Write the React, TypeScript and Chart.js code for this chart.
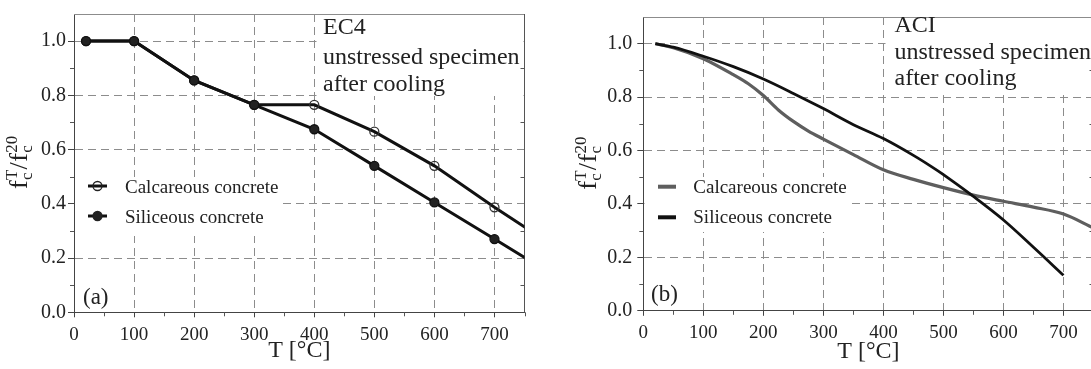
import React, { useEffect, useRef } from "react";
import { Chart, registerables } from "chart.js";

Chart.register(...registerables);

const FONT = '"Liberation Serif", "Times New Roman", serif';
const CANVAS_H = 369;

// ---------------- data ----------------
const EC4_TEMPS = [20, 100, 200, 300, 400, 500, 600, 700, 800];
const EC4_CALCAREOUS = [1.0, 1.0, 0.855, 0.765, 0.765, 0.666, 0.54, 0.387, 0.243];
const EC4_SILICEOUS = [1.0, 1.0, 0.855, 0.765, 0.675, 0.54, 0.405, 0.27, 0.135];

const ACI_CALC_TEMPS = [20, 50, 100, 150, 175, 200, 225, 250, 275, 300, 350, 400, 450, 500, 550, 600, 650, 700, 750];
const ACI_CALCAREOUS = [1.0, 0.985, 0.944, 0.884, 0.85, 0.806, 0.752, 0.709, 0.673, 0.643, 0.585, 0.528, 0.492, 0.461, 0.433, 0.41, 0.388, 0.362, 0.31];
const ACI_SIL_TEMPS = [20, 50, 100, 150, 200, 250, 300, 350, 400, 450, 480, 500, 550, 600, 650, 700];
const ACI_SILICEOUS = [1.0, 0.987, 0.953, 0.914, 0.868, 0.814, 0.757, 0.697, 0.645, 0.582, 0.54, 0.51, 0.428, 0.34, 0.238, 0.133];

const X_TICKS = [0, 100, 200, 300, 400, 500, 600, 700];
const X_MINOR_TICKS = [50, 150, 250, 350, 450, 550, 650, 750];
const Y_TICKS = [0, 0.2, 0.4, 0.6, 0.8, 1.0];
const Y_MINOR_TICKS = [0.1, 0.3, 0.5, 0.7, 0.9];
const X_MIN = 0;
const X_MAX = 750;
const Y_MIN = 0;
const Y_MAX = 1.1;

const SERIES_LABELS = ["Calcareous concrete", "Siliceous concrete"];
const NOTE_EC4 = ["EC4", "unstressed specimen", "after cooling"];
const NOTE_ACI = ["ACI", "unstressed specimen", "after cooling"];
const X_TITLE = "T [°C]";

const pts = (xs: number[], ys: number[]) => xs.map((x, i) => ({ x, y: ys[i] }));

type Spec = {
  canvasLeft: number;
  canvasWidth: number;
  plotLeft: number;
  plotRight: number;
  plotTop: number;
  plotBottom: number;
  yTickPad: number;
  datasets: any[];
  legendKind: "marker" | "line";
  legendColors: string[];
  legendLine: [number, number];
  legendTextX: number;
  legendMarkY: number[];
  legendBaselines: number[];
  legendBox: [number, number, number, number];
  note: string[];
  noteX: number;
  noteBaselines: number[];
  noteBox: [number, number, number, number];
  panelLabel: string;
  panelLabelX: number;
  panelLabelY: number;
  xTitleY: number;
  yTitleX: number;
};

const LEFT: Spec = {
  canvasLeft: 0,
  canvasWidth: 545,
  plotLeft: 74,
  plotRight: 524.5,
  plotTop: 10,
  plotBottom: 312.3,
  yTickPad: 2,
  datasets: [
    {
      label: SERIES_LABELS[0],
      data: pts(EC4_TEMPS, EC4_CALCAREOUS),
      borderColor: "#111",
      borderWidth: 3,
      pointRadius: 4.5,
      pointBackgroundColor: "rgba(255,255,255,0)",
      pointBorderColor: "#333",
      pointBorderWidth: 1.3,
      order: 2,
    },
    {
      label: SERIES_LABELS[1],
      data: pts(EC4_TEMPS, EC4_SILICEOUS),
      borderColor: "#111",
      borderWidth: 3,
      pointRadius: 4.5,
      pointBackgroundColor: "#222",
      pointBorderColor: "#111",
      pointBorderWidth: 1.3,
      order: 1,
    },
  ],
  legendKind: "marker",
  legendColors: ["#111", "#111"],
  legendLine: [88, 107],
  legendTextX: 125,
  legendMarkY: [186, 216],
  legendBaselines: [192.7, 222.7],
  legendBox: [75, 177, 280, 236],
  note: NOTE_EC4,
  noteX: 323,
  noteBaselines: [34, 64, 91],
  noteBox: [316.5, 13, 523.5, 96],
  panelLabel: "(a)",
  panelLabelX: 83,
  panelLabelY: 304,
  xTitleY: 357,
  yTitleX: 27,
};

const RIGHT: Spec = {
  canvasLeft: 548,
  canvasWidth: 560,
  plotLeft: 643.3,
  plotRight: 1093.5,
  plotTop: 7,
  plotBottom: 310.8,
  yTickPad: 5,
  datasets: [
    {
      label: SERIES_LABELS[0],
      data: pts(ACI_CALC_TEMPS, ACI_CALCAREOUS),
      borderColor: "#5e5e5e",
      borderWidth: 3.2,
      pointRadius: 0,
      cubicInterpolationMode: "monotone",
      order: 2,
    },
    {
      label: SERIES_LABELS[1],
      data: pts(ACI_SIL_TEMPS, ACI_SILICEOUS),
      borderColor: "#111",
      borderWidth: 2.8,
      pointRadius: 0,
      cubicInterpolationMode: "monotone",
      order: 1,
    },
  ],
  legendKind: "line",
  legendColors: ["#5e5e5e", "#111"],
  legendLine: [658, 676],
  legendTextX: 693.3,
  legendMarkY: [186.7, 217.3],
  legendBaselines: [193.3, 223.3],
  legendBox: [644.5, 177, 851, 232],
  note: NOTE_ACI,
  noteX: 894.5,
  noteBaselines: [32, 59, 85],
  noteBox: [885.5, 10, 1093, 95],
  panelLabel: "(b)",
  panelLabelX: 651,
  panelLabelY: 300.5,
  xTitleY: 358,
  yTitleX: 596.3,
};

function drawYTitle(ctx: CanvasRenderingContext2D, baseX: number, centerY: number) {
  const big = `26px ${FONT}`;
  const small = `17px ${FONT}`;
  const parts = [
    { main: "f", sub: "c", sup: "T" },
    { main: "/", sub: "", sup: "" },
    { main: "f", sub: "c", sup: "20" },
  ];
  const widths = parts.map((p) => {
    ctx.font = big;
    const wm = ctx.measureText(p.main).width;
    ctx.font = small;
    const ws = Math.max(p.sub ? ctx.measureText(p.sub).width : 0, p.sup ? ctx.measureText(p.sup).width : 0);
    return { wm, ws };
  });
  const total = widths.reduce((s, w) => s + w.wm + w.ws, 0);
  ctx.save();
  ctx.translate(baseX, centerY);
  ctx.rotate(-Math.PI / 2);
  ctx.fillStyle = "#222";
  ctx.textAlign = "left";
  ctx.textBaseline = "alphabetic";
  let u = -total / 2;
  parts.forEach((p, i) => {
    ctx.font = big;
    ctx.fillText(p.main, u, 0);
    u += widths[i].wm;
    ctx.font = small;
    if (p.sub) ctx.fillText(p.sub, u + 0.5, 5);
    if (p.sup) ctx.fillText(p.sup, u + 0.5, -10);
    u += widths[i].ws + 0.5;
  });
  ctx.restore();
}

function makeDecor(s: Spec) {
  const L = (x: number) => x - s.canvasLeft;
  return {
    id: "decor",
    beforeDatasetsDraw(chart: any) {
      const ctx: CanvasRenderingContext2D = chart.ctx;
      const a = chart.chartArea;
      const xs = chart.scales.x;
      const ys = chart.scales.y;
      ctx.save();
      ctx.fillStyle = "#fff";
      const nb = s.noteBox;
      ctx.fillRect(L(nb[0]), nb[1], nb[2] - nb[0], nb[3] - nb[1]);
      const lb = s.legendBox;
      ctx.fillRect(L(lb[0]), lb[1], lb[2] - lb[0], lb[3] - lb[1]);
      // top and right frame
      ctx.lineWidth = 1;
      ctx.strokeStyle = "#8c8c8c";
      ctx.beginPath();
      ctx.moveTo(a.left, Math.round(a.top) + 0.5);
      ctx.lineTo(a.right, Math.round(a.top) + 0.5);
      ctx.stroke();
      ctx.strokeStyle = "#555";
      ctx.beginPath();
      ctx.moveTo(Math.round(a.right) - 0.5, a.top);
      ctx.lineTo(Math.round(a.right) - 0.5, a.bottom);
      ctx.stroke();
      // minor ticks
      ctx.strokeStyle = "#555";
      ctx.beginPath();
      for (const v of X_MINOR_TICKS) {
        const px = Math.round(xs.getPixelForValue(v)) + 0.5;
        ctx.moveTo(px, a.bottom);
        ctx.lineTo(px, a.bottom + 4);
      }
      for (const v of Y_MINOR_TICKS) {
        const py = Math.round(ys.getPixelForValue(v)) + 0.5;
        ctx.moveTo(a.left - 4, py);
        ctx.lineTo(a.left, py);
        ctx.moveTo(a.right - 4, py);
        ctx.lineTo(a.right, py);
      }
      ctx.stroke();
      ctx.restore();
    },
    afterDraw(chart: any) {
      const ctx: CanvasRenderingContext2D = chart.ctx;
      const a = chart.chartArea;
      ctx.save();
      ctx.fillStyle = "#222";
      ctx.textBaseline = "alphabetic";
      ctx.textAlign = "left";
      // note
      ctx.font = `24px ${FONT}`;
      s.note.forEach((t, i) => ctx.fillText(t, L(s.noteX), s.noteBaselines[i]));
      // legend
      SERIES_LABELS.forEach((label, i) => {
        const y = s.legendMarkY[i];
        ctx.strokeStyle = s.legendColors[i];
        ctx.lineWidth = s.legendKind === "line" ? 4 : 3;
        ctx.beginPath();
        ctx.moveTo(L(s.legendLine[0]), y);
        ctx.lineTo(L(s.legendLine[1]), y);
        ctx.stroke();
        if (s.legendKind === "marker") {
          const cx = L((s.legendLine[0] + s.legendLine[1]) / 2);
          ctx.beginPath();
          ctx.arc(cx, y, 4.5, 0, Math.PI * 2);
          ctx.lineWidth = 1.3;
          ctx.strokeStyle = "#222";
          if (i === 1) {
            ctx.fillStyle = "#222";
            ctx.fill();
          }
          ctx.stroke();
        }
        ctx.fillStyle = "#222";
        ctx.font = `19px ${FONT}`;
        ctx.fillText(label, L(s.legendTextX), s.legendBaselines[i]);
      });
      // panel label
      ctx.font = `23px ${FONT}`;
      ctx.fillText(s.panelLabel, L(s.panelLabelX), s.panelLabelY);
      // x title
      ctx.textAlign = "center";
      ctx.font = `24px ${FONT}`;
      ctx.fillText(X_TITLE, (a.left + a.right) / 2, s.xTitleY);
      ctx.restore();
      // y title
      drawYTitle(ctx, L(s.yTitleX), (a.top + a.bottom) / 2);
    },
  };
}

function buildConfig(s: Spec): any {
  return {
    type: "line",
    data: { datasets: s.datasets },
    options: {
      responsive: false,
      animation: false,
      events: [],
      layout: {
        padding: {
          left: 0,
          top: s.plotTop,
          right: s.canvasWidth - (s.plotRight - s.canvasLeft),
          bottom: 0,
        },
      },
      plugins: {
        legend: { display: false },
        tooltip: { enabled: false },
        title: { display: false },
      },
      scales: {
        x: {
          type: "linear",
          min: X_MIN,
          max: X_MAX,
          afterBuildTicks: (sc: any) => {
            sc.ticks = X_TICKS.map((v) => ({ value: v }));
          },
          afterFit: (sc: any) => {
            sc.height = CANVAS_H - s.plotBottom;
          },
          ticks: {
            autoSkip: false,
            maxRotation: 0,
            minRotation: 0,
            padding: 6,
            color: "#222",
            font: { family: FONT, size: 19 },
            callback: (v: number) => String(v),
          },
          grid: {
            color: "#8c8c8c",
            lineWidth: 1,
            drawTicks: true,
            tickLength: 5,
            tickColor: "#444",
            tickWidth: 1,
          },
          border: { display: true, color: "#444", width: 1, dash: [8, 5] },
        },
        y: {
          type: "linear",
          min: Y_MIN,
          max: Y_MAX,
          afterBuildTicks: (sc: any) => {
            sc.ticks = Y_TICKS.map((v) => ({ value: v }));
          },
          afterFit: (sc: any) => {
            sc.width = s.plotLeft - s.canvasLeft;
          },
          ticks: {
            padding: s.yTickPad,
            color: "#222",
            font: { family: FONT, size: 20 },
            callback: (v: number) => Number(v).toFixed(1),
          },
          grid: {
            color: "#8c8c8c",
            lineWidth: 1,
            drawTicks: true,
            tickLength: 6,
            tickColor: "#444",
            tickWidth: 1,
          },
          border: { display: true, color: "#444", width: 1, dash: [8, 5] },
        },
      },
    },
    plugins: [makeDecor(s)],
  };
}

function Panel({ spec }: { spec: Spec }) {
  const ref = useRef<HTMLCanvasElement>(null);
  useEffect(() => {
    const chart = new Chart(ref.current as HTMLCanvasElement, buildConfig(spec));
    return () => chart.destroy();
  }, [spec]);
  return (
    <canvas
      ref={ref}
      width={spec.canvasWidth}
      height={CANVAS_H}
      style={{ position: "absolute", left: spec.canvasLeft, top: 0, width: spec.canvasWidth, height: CANVAS_H }}
    />
  );
}

export default function App() {
  return (
    <div
      style={{
        position: "absolute",
        left: 0,
        top: 0,
        width: 1091,
        height: CANVAS_H,
        overflow: "hidden",
        background: "#fff",
      }}
    >
      <Panel spec={LEFT} />
      <Panel spec={RIGHT} />
    </div>
  );
}
